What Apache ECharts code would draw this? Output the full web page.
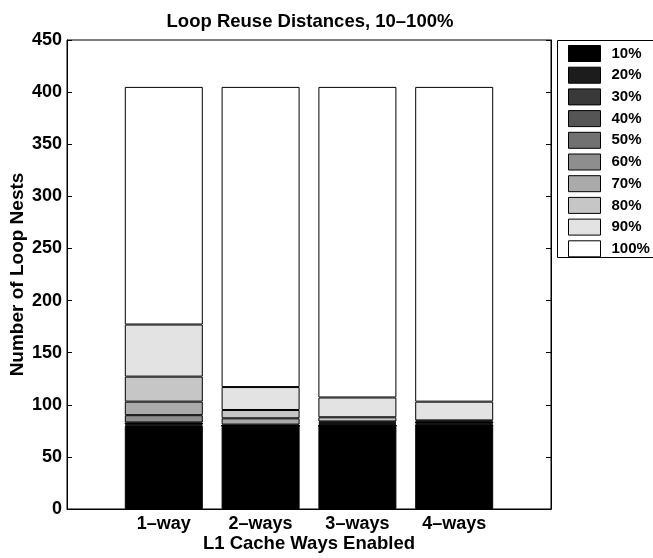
<!DOCTYPE html>
<html>
<head>
<meta charset="utf-8">
<script src="https://cdn.jsdelivr.net/npm/echarts@6/dist/echarts.min.js"></script>
<style>html,body{margin:0;padding:0;background:#fff}#c{width:653px;height:558px}</style>
</head>
<body>
<div id="c"></div>
<script>
const categories = ['1\u2013way', '2\u2013ways', '3\u2013ways', '4\u2013ways'];
const seriesNames = ['10%', '20%', '30%', '40%', '50%', '60%', '70%', '80%', '90%', '100%'];
const d10  = [80, 80, 80, 80];
const d20  = [1, 0, 0, 0];
const d30  = [1, 0, 0, 1];
const d40  = [0, 0, 1, 1];
const d50  = [1, 0, 1, 1];
const d60  = [7, 1, 1, 0];
const d70  = [13, 6, 1, 1];
const d80  = [24, 8, 4, 1];
const d90  = [50, 22, 19, 18];
const d100 = [228, 288, 298, 302];
const yTicks = [0, 50, 100, 150, 200, 250, 300, 350, 400, 450];

const allData = [d10, d20, d30, d40, d50, d60, d70, d80, d90, d100];
const colors = ['#000000', '#1c1c1c', '#393939', '#555555', '#717171', '#8e8e8e', '#aaaaaa', '#c6c6c6', '#e3e3e3', '#ffffff'];
const FONT = '"Liberation Sans", Arial, Helvetica, sans-serif';

// x axis spans 0..5 like the original (empty slots at both ends)
const axisCats = [''].concat(categories, ['']);

const chart = echarts.init(document.getElementById('c'), null, { renderer: 'canvas' });
const series = seriesNames.map((name, i) => ({
  name: name,
  type: 'bar',
  stack: 'total',
  barWidth: 78,
  data: ['-'].concat(allData[i], ['-']),
  itemStyle: { color: colors[i], borderColor: '#000', borderWidth: 1 },
  emphasis: { disabled: true },
  animation: false
}));

chart.setOption({
  animation: false,
  title: {
    text: 'Loop Reuse Distances, 10\u2013100%',
    left: 305, top: 7, textAlign: 'center',
    textStyle: { fontFamily: FONT, fontWeight: 'bold', fontSize: 18.5, color: '#000' }
  },
  grid: { left: 67, right: 102, top: 40, bottom: 49, containLabel: false, outerBoundsMode: 'none',
    show: true, borderColor: '#000', borderWidth: 1, backgroundColor: 'transparent' },
  graphic: [{
    type: 'rect', silent: true, z: -1,
    shape: { x: 557.5, y: 40.5, width: 120, height: 217 },
    style: { fill: '#fff', stroke: '#000', lineWidth: 1 }
  }],
  legend: {
    orient: 'vertical', left: 557, top: 41,
    itemWidth: 32, itemHeight: 16, itemGap: 4.7,
    padding: [4, 10, 3, 11],
    borderWidth: 0,
    icon: 'rect',
    itemStyle: { borderColor: '#000', borderWidth: 1 },
    textStyle: { fontFamily: FONT, fontWeight: 'bold', fontSize: 15, color: '#000', padding: [0, 0, 0, 6] },
    data: seriesNames
  },
  xAxis: {
    type: 'category', data: axisCats, boundaryGap: false,
    name: 'L1 Cache Ways Enabled', nameLocation: 'middle', nameGap: 25, nameMoveOverlap: false,
    nameTextStyle: { fontFamily: FONT, fontWeight: 'bold', fontSize: 18.5, color: '#000' },
    axisLine: { show: true, lineStyle: { color: '#000', width: 1 } },
    axisTick: { show: false },
    splitLine: { show: false },
    axisLabel: {
      margin: 6, interval: 0,
      fontFamily: FONT, fontWeight: 'bold', fontSize: 18, color: '#000'
    }
  },
  yAxis: [{
    type: 'value', min: 0, max: 450, interval: 50,
    name: 'Number of Loop Nests', nameLocation: 'middle', nameGap: 40, nameRotate: 90, nameMoveOverlap: false,
    nameTextStyle: { fontFamily: FONT, fontWeight: 'bold', fontSize: 19, color: '#000' },
    axisLine: { show: true, lineStyle: { color: '#000', width: 1 } },
    axisTick: { show: true, inside: true, length: 5, lineStyle: { color: '#000' } },
    splitLine: { show: false },
    axisLabel: { margin: 5, fontFamily: FONT, fontWeight: 'bold', fontSize: 18, color: '#000',
      formatter: v => (yTicks.indexOf(v) >= 0 ? String(v) : '') }
  }, {
    type: 'value', min: 0, max: 450, interval: 50, position: 'right',
    axisLine: { show: true, lineStyle: { color: '#000', width: 1 } },
    axisTick: { show: true, inside: true, length: 5, lineStyle: { color: '#000' } },
    axisLabel: { show: false },
    splitLine: { show: false }
  }],
  series: series
});
</script>
</body>
</html>
